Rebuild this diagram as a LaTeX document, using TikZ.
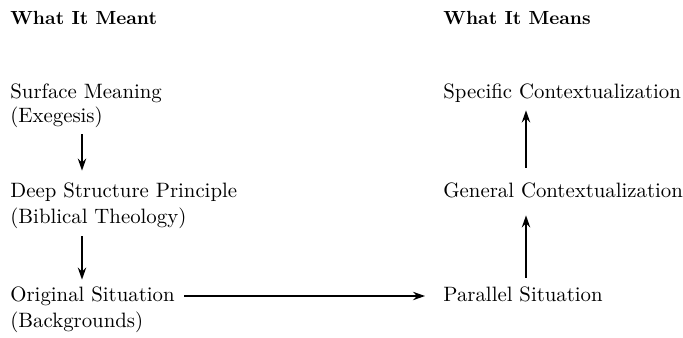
\documentclass[tikz,border=0pt]{standalone}
\usepackage{tikz}
\usetikzlibrary{arrows.meta}

\begin{document}
\begin{tikzpicture}[x=0.5pt,y=-0.5pt,
    lbl/.style={anchor=west, inner sep=0pt, text height=7pt, text depth=2pt,
      font=\fontsize{10.4}{12}\selectfont},
    head/.style={lbl, font=\fontsize{9.5}{11}\selectfont\bfseries},
    arr/.style={-{Stealth[length=6pt,width=4.2pt]}, line width=0.7pt}]
  \useasboundingbox (0,0) rectangle (683,337);
  % column headings
  \node[head] (meant) at (10,20) {What It Meant};
  \node[head] (means) at (443,20) {What It Means};
  % left column
  \node[lbl] (surface)  at (10,93)  {Surface Meaning};
  \node[lbl] (exegesis) at (10,117) {(Exegesis)};
  \node[lbl] (deep)     at (10,192) {Deep Structure Principle};
  \node[lbl] (biblical) at (10,218) {(Biblical Theology)};
  \node[lbl] (orig)     at (10,296) {Original Situation};
  \node[lbl] (backgr)   at (10,322) {(Backgrounds)};
  % right column
  \node[lbl] (specific) at (443,93)  {Specific Contextualization};
  \node[lbl] (general)  at (443,192) {General Contextualization};
  \node[lbl] (parallel) at (443,296) {Parallel Situation};
  \coordinate (lx) at (82,0);
  \coordinate (rx) at (526,0);
  \draw[arr, shorten <=4pt, shorten >=6pt] (exegesis.south -| lx) -- (deep.north -| lx);
  \draw[arr, shorten <=4.5pt, shorten >=3.5pt] (biblical.south -| lx) -- (orig.north -| lx);
  \draw[arr, shorten <=4.5pt, shorten >=9pt] (orig) -- (parallel);
  \draw[arr, shorten <=4.5pt, shorten >=7pt] (parallel.north -| rx) -- (general.south -| rx);
  \draw[arr, shorten <=7.5pt, shorten >=4pt] (general.north -| rx) -- (specific.south -| rx);
\end{tikzpicture}
\end{document}
